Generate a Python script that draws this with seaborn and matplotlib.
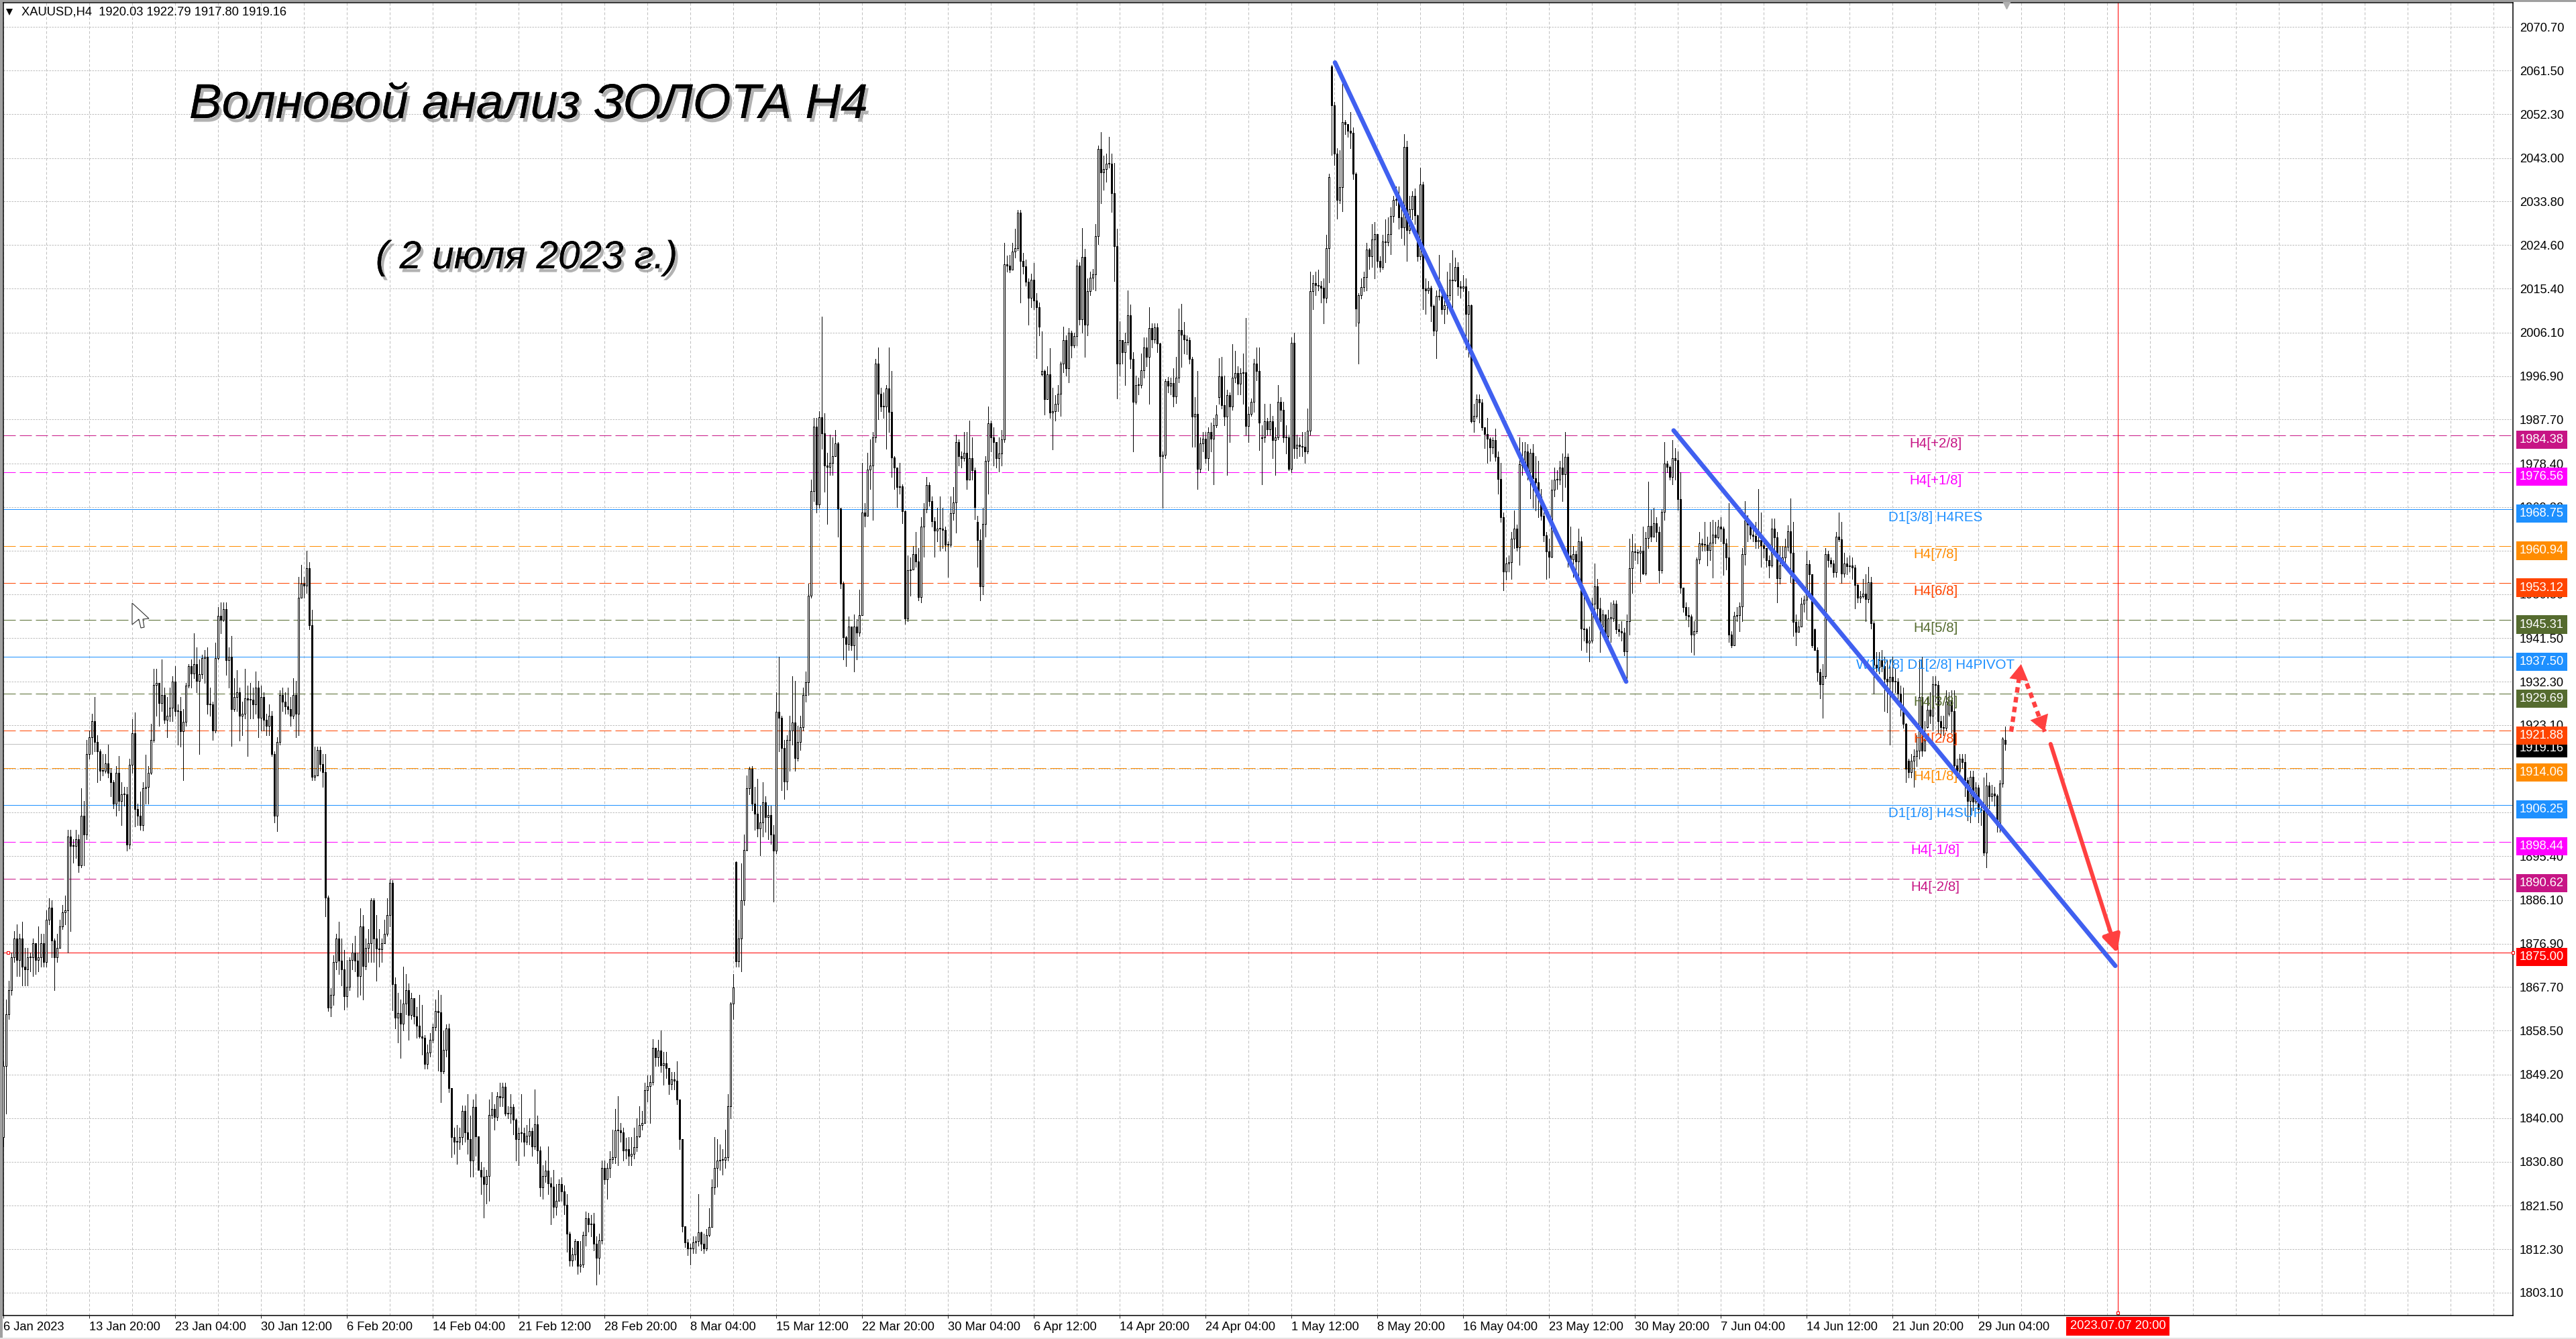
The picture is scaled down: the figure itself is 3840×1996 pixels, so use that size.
import matplotlib
matplotlib.use('Agg')
import matplotlib.pyplot as plt
import matplotlib.patheffects as pe
from matplotlib.patches import Polygon, Rectangle
from matplotlib.transforms import blended_transform_factory
import seaborn as sns

# H4 candles, ten bars per row
closes = [
    1851,1862,1867,1874,1878,1873.5,1878,1872,1871.5,1874,
    1874,1877,1873.5,1874,1877,1873,1882,1884.5,1877.5,1874,
    1876,1880.5,1883.5,1884,1899.5,1897.5,1897.5,1899,1893.5,1904,
    1900,1917,1920.5,1924,1919.5,1917.5,1913.5,1913.5,1915,1913,
    1911,1906.5,1913,1907,1908.5,1908.5,1897.8,1914.7,1921.4,1905.4,
    1904,1901.9,1909.8,1910,1913,1920,1931.6,1932,1927.8,1929.4,
    1924.2,1925,1926.8,1932.3,1926,1926,1921.8,1923.8,1931.5,1935.6,
    1934,1936,1932.4,1933.9,1937.3,1937.5,1927.5,1927.5,1922,1937.3,
    1946.2,1945.4,1947.6,1936.9,1937.5,1926.5,1929,1930,1925,1925.5,
    1928.7,1928.5,1928.5,1927.5,1931,1924.7,1929,1924.2,1923,1925,
    1917,1904,1919.6,1929.5,1928,1927,1926.5,1925,1929.4,1925.5,
    1950,1953,1952.6,1956.3,1944.2,1912.2,1912.5,1917.9,1914.8,1913.2,
    1886.6,1863.3,1866,1873,1878,1873.3,1871.5,1865.8,1867.7,1873.5,
    1875,1873.3,1870,1880.5,1872.2,1876,1877,1886.1,1878,1875.8,
    1875.7,1877,1879,1883,1889.7,1868.4,1861.3,1862.2,1860,1864.2,
    1867,1861.8,1865.4,1861.5,1859.6,1857.2,1857,1851.5,1853.9,1856.5,
    1859.3,1862.6,1862.4,1849.9,1854.4,1859,1846.4,1836,1835,1835,
    1836,1841.5,1837,1835.5,1831,1842.4,1836.2,1829,1827.6,1826,
    1827.7,1840.7,1842,1840.3,1844.6,1844.4,1846.6,1840.9,1841,1842.4,
    1839.7,1835.5,1836.9,1836.9,1835,1836.3,1837.2,1834,1838.7,1833.2,
    1825.4,1827.7,1828.9,1826.2,1825.5,1821.3,1822.5,1826,1824.5,1821.6,
    1815.5,1809.9,1811.2,1814,1808.8,1809,1815.3,1818.8,1817.5,1817.7,
    1813.5,1810.4,1814.1,1829.4,1827,1829.4,1831.3,1831.8,1837.4,1837.4,
    1837,1833.1,1833.4,1832,1832.5,1833.8,1836.2,1838.5,1839,1845.9,
    1846.8,1847.6,1854.8,1852.9,1854.3,1851.2,1851.6,1850.6,1847.2,1848.2,
    1847.9,1843.9,1835.6,1817.1,1813.7,1812.4,1812.4,1813.7,1814,1815.9,
    1813.5,1812.4,1815.3,1817,1825.4,1829.4,1831,1831.1,1831.1,1831.8,
    1842.5,1864.2,1867.6,1873.1,1878,1886,1896.7,1909.7,1913.9,1906.5,
    1904.4,1901.2,1902.5,1906.8,1903.7,1904.1,1900,1896.5,1925.9,1924.6,
    1918.2,1911.2,1920,1922,1923.7,1916.2,1919.6,1922.7,1929.5,1932.2,
    1950.5,1972.6,1986.2,1969.7,1988.2,1984.8,1978,1977.7,1978.5,1980,
    1982.7,1968.9,1953,1941.6,1940.3,1943.9,1939.9,1944,1942.7,1946.3,
    1968,1967.3,1977.1,1978,1984,1999.6,1993.1,1990.5,1990.4,1994.3,
    1989.3,1979.7,1977.5,1973.5,1973.6,1968.3,1945.6,1955.8,1956,1959.2,
    1957.7,1950.2,1965.1,1968.7,1973.8,1970.4,1966.2,1964.2,1964.7,1964.7,
    1964.4,1961.2,1961.2,1967.9,1970.2,1983,1979.9,1979.6,1980.7,1975,
    1979.5,1977,1969.2,1962.3,1952.4,1965.7,1978.9,1986.9,1984,1982.9,
    1979.6,1980.6,1983.5,2020.6,2020.3,2019.4,2023.2,2023.9,2031.5,2021.2,
    2020.1,2016.8,2013.5,2017.3,2012.9,2011.5,2007.3,1998,1992,1997.2,
    1989.2,1989.5,1991,1993.1,1999.6,2004.5,1998.5,2006,2003.3,2005.3,
    2020.3,2008.9,2022.1,2007.7,2014.8,2017.7,2018.4,2026.5,2044.9,2040,
    2040.7,2041.8,2041.8,2035.6,2024.4,1999.5,2004.5,2002,2004.1,2009.8,
    2000.5,1991.4,1995,1995,1998.1,2003,2001,2007,2004.7,2007.2,
    2003.8,1979.9,1980.2,1995.9,1994.8,1995.4,1992.6,1996.5,2006.7,2005.7,
    2004.6,2004.5,2000.5,1988.3,1988.9,1977.2,1982.6,1983.7,1979.5,1985,
    1983.7,1986.5,1988.8,1996.8,1990.8,1988.3,1992.9,1990.4,1996.5,1997.6,
    1995.3,1997.5,1997.7,1986.4,1988.9,1991.4,1999.5,1998,1987,1984,
    1987.4,1985.7,1987.3,1983.4,1984,1991.4,1989.7,1983.9,1984,1977.2,
    2004,1981.7,1982.4,1982.1,1982,1981,1985.4,2014.9,2016.6,2016.2,
    2016,2015.6,2013.5,2023.9,2039,2054.2,2044,2034.2,2036.8,2050.6,
    2050.2,2048.8,2048.4,2039.7,2011.1,2014,2015.7,2017.9,2023.6,2022.3,
    2025.8,2026.9,2021.2,2020,2025.4,2025.2,2026.9,2030.8,2034.2,2034.2,
    2030.5,2028.3,2045.4,2027.7,2032.1,2035,2030.9,2022.3,2037.4,2015.4,
    2015,2015.5,2011.7,2006.5,2013.9,2013.7,2011,2011.9,2014,2017.3,
    2017.1,2020,2015.8,2015.5,2015.9,2010,2011.9,1987.4,1988.5,1992,
    1991.3,1986,1984.7,1983.7,1981.8,1983.4,1979.8,1975.2,1967,1955.5,
    1957.2,1957.6,1962.5,1964.6,1960.7,1978.2,1978,1980.9,1976.6,1980.7,
    1975.3,1974.4,1971.5,1967.3,1963.2,1959.8,1958.7,1972.9,1975,1975,
    1977.5,1976.2,1979.8,1958.9,1958.1,1959.2,1957.7,1961.9,1943.5,1943.4,
    1940.5,1941,1948.8,1952.5,1947.8,1944,1946.5,1941.9,1945.7,1945.7,
    1948.7,1943.3,1943,1942.6,1938.7,1945,1956.3,1959.8,1959.7,1959.6,
    1959.9,1955.2,1962.7,1965.2,1963,1965.8,1964,1955.9,1968.2,1978.4,
    1977.7,1975.6,1979.6,1979.1,1970.9,1952.2,1948,1946.4,1946.1,1942.2,
    1942.9,1958.1,1961.5,1961.2,1961.2,1960.1,1961.7,1963.4,1962.8,1965,
    1964.7,1961.5,1958.6,1942.2,1940,1946.2,1946.4,1948.2,1959.2,1966.3,
    1965.5,1963.3,1963.1,1962,1962.3,1961.1,1960.5,1958,1956.8,1964.7,
    1962.8,1954.1,1956.8,1958.6,1960.8,1964.1,1959.6,1944.9,1942.8,1944,
    1948.8,1949.6,1957.1,1955,1940,1939,1934.3,1931.7,1933.4,1959.3,
    1958,1957.2,1955.4,1963,1962.4,1955.1,1957.2,1956.7,1956.8,1956.4,
    1952.7,1950,1950.3,1950.9,1949.8,1953.3,1944.6,1935.9,1935.3,1936.9,
    1935.6,1932.8,1932.3,1933.3,1932.3,1932.3,1929.8,1927,1923.4,1913.9,
    1913.2,1915.6,1916.5,1917.7,1929,1917.7,1919.8,1926.4,1925,1931.7,
    1931.6,1923.9,1922.6,1922.5,1928,1928.3,1926.1,1914.6,1913.5,1916,
    1915.3,1911.5,1907,1912.2,1906.9,1909.9,1905.3,1905,1896.1,1910.3,
    1908.1,1908.6,1908.2,1902,1910.8,1920.2,1919.16,
]
highs = [
    1852,1865,1869,1875,1879.5,1881,1879,1881.5,1876,1876,
    1875,1878,1877,1880.5,1879,1879,1884,1886.5,1886,1878,
    1879,1882,1885,1887,1901,1901,1899,1901,1900,1909.7,
    1907,1920,1922,1925.5,1929,1921,1918,1917,1917,1919,
    1914,1911.5,1914.5,1916.5,1911,1910,1910,1916,1924.3,1925.8,
    1906.5,1909,1911,1916.8,1914.5,1923.3,1935,1935,1932,1937,
    1931,1929,1931,1933.5,1935.5,1927.5,1929,1926.5,1932,1936,
    1937,1942.5,1939.5,1937,1938,1939,1939.5,1931,1928,1940.5,
    1948,1949,1949,1949,1939.5,1942,1933,1934.7,1931,1928,
    1935,1931.5,1932,1931,1934.5,1932.5,1931.5,1930,1925.5,1927.5,
    1926,1917.5,1920.5,1930.5,1931,1930,1931,1929,1933,1932.5,
    1954.5,1957,1954.5,1960,1957.5,1947.5,1918.5,1918.5,1918.5,1917,
    1917,1887,1867.5,1874.5,1879,1881.5,1878,1875.5,1873.5,1874,
    1877,1878.5,1875,1884.3,1883,1878,1880,1886.5,1886.5,1883,
    1880,1878,1882,1886.5,1890.5,1890.3,1869.7,1866.5,1865,1872,
    1870.5,1868.5,1866.5,1865,1863.5,1866,1864,1857.5,1855.5,1858,
    1860,1865,1867,1866,1858.5,1859.8,1860,1846.4,1838,1838.5,
    1838,1842.6,1842.7,1845,1840.5,1844,1845,1836,1830.7,1829.6,
    1829,1844,1845.5,1843,1845.5,1847.5,1847.5,1847.5,1842.5,1845,
    1843,1840,1838,1845,1838,1838.5,1840,1838,1846,1840.5,
    1834,1830,1831,1834,1827.5,1829,1826,1827,1827.5,1825.8,
    1824,1816,1812.6,1814.5,1814,1814,1816,1820.3,1820,1819.5,
    1820,1815,1815.5,1831,1831,1830.5,1833,1837.5,1842,1844.6,
    1839,1838,1835.8,1836,1836,1838,1840,1842.5,1841.5,1847.5,
    1849,1849,1856.7,1853.8,1856.5,1858.5,1854,1854,1850.6,1849.8,
    1849.8,1852,1844,1835.5,1817,1814.5,1813.5,1815,1815,1824,
    1816,1815.5,1816.5,1821,1827,1836,1835.5,1834.5,1833.5,1837.5,
    1845,1864.5,1870.5,1894.3,1882,1893.8,1900,1912.5,1914.3,1914.5,
    1910,1911.7,1906,1911,1908,1906,1906,1902,1930,1937.5,
    1925,1920,1921,1925,1933.5,1932.5,1923,1925,1931,1934.5,
    1953,1975,1988,1988,1989.5,2009.5,1989,1980.7,1984.5,1984,
    1985.5,1983,1969,1953.5,1942,1946,1944,1946.5,1945.5,1951.7,
    1978.5,1970,1980.7,1983.5,1985,2000.5,2003,1994.5,1993.5,1995,
    2003,1998,1980,1976.5,1978.5,1974,1968.5,1959,1958.5,1961,
    1964,1960.5,1967,1970,1975.5,1974.5,1971.5,1967,1969,1971.5,
    1969,1965,1962,1971.5,1973.5,1984.5,1983.5,1981,1985,1985,
    1987.5,1984,1977.5,1967.3,1964.5,1969,1980,1990.5,1987.5,1986,
    1983,1984,1985.5,2025,2022.4,2022.5,2025,2028,2032,2032,
    2023,2021.5,2017.5,2018.5,2020.8,2014.5,2012.5,2006.3,1998.3,1999,
    2002.8,1994.5,1992.8,1995,2000,2007.3,2005.5,2007,2006.5,2006,
    2021.5,2021,2028.2,2023.8,2017.5,2019,2019.5,2029,2045.7,2048.5,
    2043.5,2044,2047.5,2044,2042,2028,2008.5,2004.5,2006,2015,
    2012,2002,1997,1996.5,2001.7,2005,2005,2011.5,2008,2008,
    2008,2004,1981,1996.3,1996.7,1996.5,1998.5,2001,2011.2,2012.2,
    2008.4,2005.5,2005,2001,1992.4,1998,1984,1985,1985,1986,
    1987,1988,1990.7,2000.7,2001,1997,1994,1993.5,2003.7,2002.3,
    1999,1998.5,2001.7,2009.2,1990.5,1992.2,2000.5,2003,2003,1986.5,
    1991,1988,1991,1988.5,1986,1995,1992.5,1991.5,1986.5,1984.5,
    2005,2006,1984.5,1984,1985,1985,1990,2019,2018.2,2019,
    2019.4,2017,2017.5,2026.8,2039.7,2062.7,2054.8,2045,2044.7,2058.8,
    2051,2050,2052.7,2049.5,2040,2014.5,2017.5,2019,2025,2024,
    2029,2029.5,2026.9,2022.3,2026.8,2030,2030.5,2032.6,2035,2037,
    2037,2033,2048,2046.7,2035,2036,2036.5,2031,2041,2038,
    2017.5,2017,2016,2012,2015,2022.5,2014.5,2014.5,2019,2020.8,
    2023.5,2022,2021,2017,2018.2,2017.5,2014.8,2012,1991,1993,
    1993,1992,1986,1988,1984,1984,1985.8,1981,1978.5,1968,
    1958.5,1959,1964,1968.5,1965.5,1984,1983,1983,1982.5,1981.5,
    1982.5,1980,1979,1973,1968,1964,1962.5,1975,1977.5,1977,
    1979,1980.5,1985,1980.5,1965,1961,1960,1964.6,1963,1951,
    1943.6,1944,1950,1957.3,1954,1950,1947.5,1946.5,1947.5,1949,
    1949.5,1949.5,1944.5,1945,1943.7,1946.5,1962.5,1963.5,1961.5,1960.2,
    1961,1965,1964,1974.6,1968.6,1969,1967,1965,1968.8,1983,
    1979,1978,1983.3,1981.6,1981,1976.5,1952,1949,1948,1946.5,
    1945,1958.5,1964,1962.5,1966,1963,1966,1966.5,1966,1966.5,
    1967,1965,1962.5,1970,1943,1947,1948,1949,1960.5,1970.4,
    1967.5,1966,1965,1966,1973,1968,1962,1960,1959,1966.8,
    1966.8,1964,1961,1961,1962.5,1965.3,1971,1966,1946.5,1945,
    1950,1950.5,1960,1958,1955,1943.5,1939.5,1935,1936,1960.5,
    1960,1958.5,1958,1964,1968,1966,1959.5,1958.5,1959,1958.5,
    1957,1953,1951.5,1954,1955,1956.5,1954.5,1945,1938.5,1938.5,
    1939,1937.5,1937,1937,1937.5,1935,1933,1931.5,1931,1923.5,
    1916,1917,1918,1921,1937,1937.5,1924,1929,1930,1933.4,
    1933.4,1932.5,1925,1925,1930.5,1930,1930.5,1930.5,1916,1917,
    1917,1917,1912,1913.5,1913.5,1911,1910.5,1907,1912,1913,
    1911,1910.5,1910,1908.5,1911.5,1920.5,1922.79,
]
lows = [
    1834,1841,1861,1866,1873,1870,1870,1868,1868,1868,
    1871,1870,1870.5,1871,1872,1872,1872,1881,1874,1867,
    1873,1876,1880,1881,1875,1879.5,1894,1895,1892,1893,
    1893.5,1899,1916,1917,1917.5,1911,1911.5,1912.5,1913,1912,
    1908,1905.5,1904,1905,1902,1906,1896.5,1897,1913,1901.7,
    1902,1901,1900.8,1906.5,1906.5,1912.7,1919.5,1925,1923,1926,
    1923.5,1920.5,1924,1924,1925,1919,1918.5,1911.5,1923,1931,
    1931,1933,1930,1917,1933,1932,1925.5,1925,1920,1921.5,
    1937,1942.5,1945,1933.7,1931,1918.7,1926,1926,1919.8,1921,
    1924.5,1916.5,1924.5,1924.5,1925.5,1920.5,1922,1922,1921,1921,
    1916.5,1902.5,1900.7,1919,1926,1925.5,1925.5,1923,1924.5,1920.5,
    1921,1950.5,1950,1951,1943.3,1911.5,1911.4,1912.5,1913.5,1910,
    1882.6,1862.7,1861.5,1864,1871.5,1870.5,1868,1863,1863.5,1867,
    1871.5,1871,1865.7,1866,1865,1871.5,1873,1873,1873,1869,
    1872,1873,1877,1878.5,1880.5,1862.8,1859,1856,1852.7,1858.5,
    1862,1856.5,1861,1860,1857,1857,1853.5,1850.5,1850.5,1853,
    1856,1858.5,1850,1843.3,1849.5,1853,1845.5,1831.8,1832.5,1830.3,
    1833.5,1834.5,1835,1832.5,1827.6,1827.6,1832,1829,1824,1819,
    1822,1822.5,1840,1837.5,1839.5,1842.5,1842.5,1840.5,1840,1839,
    1836.5,1831,1830,1835,1832,1834.5,1834.5,1832,1833.5,1830.5,
    1823.5,1823,1826.5,1824,1817.5,1819,1819.5,1822.5,1822.5,1819.7,
    1811.8,1808.7,1808.7,1810,1807,1807.5,1808.5,1813,1816,1815,
    1812,1804.8,1807,1813.5,1826,1823,1827.5,1830.5,1830.5,1830,
    1835,1831,1831.5,1830,1830,1831.5,1833,1836,1837.5,1839,
    1843.5,1839,1847,1851,1851,1849.7,1847,1848.5,1845,1846,
    1846,1843,1833.5,1816,1812.7,1811,1809,1811.5,1811.5,1813,
    1812,1811.5,1812,1815,1817,1824,1825.5,1829,1828,1829.5,
    1831,1840,1861,1872,1872,1871,1885,1896.5,1908.5,1905,
    1901,1899.5,1895.5,1899.5,1900.5,1899,1898,1885.8,1896,1917.5,
    1909.3,1907.5,1909.5,1913.5,1919,1913.5,1915.5,1917.8,1922,1928,
    1929.5,1950,1970.5,1968,1969,1981.5,1972.5,1965.7,1976,1976,
    1980,1963,1952,1937,1935.5,1939,1939,1934.5,1937,1942,
    1950,1965,1968,1973,1966.5,1983,1987.8,1989.5,1988,1981.5,
    1985,1975.5,1973,1969.2,1972,1965.8,1944.5,1945,1950.5,1956,
    1956.5,1949.5,1949,1958.7,1968,1969.5,1965,1958.7,1962,1960,
    1960.5,1960,1954.5,1960.8,1966.5,1963.8,1978,1977.5,1979,1973,
    1975,1975,1966.7,1956.5,1949.5,1950.7,1963,1972,1981,1978,
    1977.5,1976.7,1978,1983,2019,2018.8,2019.5,2022,2023.5,2012.4,
    2018.5,2016,2007.8,2011.5,2011,2000.7,2005.5,1997,1988.7,1992,
    1988,1981.4,1987.5,1989.5,1988.5,1997.7,1997,1995.5,2000.8,2003,
    2003.3,2007.8,2006,2001,2005.5,2014,2015.3,2015,2024.8,2033.4,
    2036.3,2038,2041,2031.6,2017,1992.2,1997,1999.5,1995,2003.5,
    1998.5,1981,1991,1993,1994.5,1996.5,1999,1991,2003,2004,
    2002,1976.5,1969,1979.5,1993.5,1993,1990.4,1991.2,1995.5,1998.8,
    2001.7,2001.5,1999.5,1982,1982,1973,1976.5,1981,1978.5,1977,
    1981,1974,1986,1991,1990,1986.5,1976,1983,1989.8,1995.5,
    1993,1993,1991,1984.5,1983,1988.5,1989.3,1996,1981.3,1974,
    1983,1984.5,1984.5,1979.5,1976,1983.5,1987.3,1983,1980.5,1977,
    1976.5,1979.5,1979.5,1980,1980,1978.5,1980.5,1984.5,2011,2014,
    2015,2012.5,2008,2012.4,2016.7,2043.7,2041.5,2030.2,2033.5,2031.8,
    2048,2047.5,2045,2038.5,2007.5,1999.5,2013.3,2014.8,2015,2019.5,
    2020,2017.6,2020,2019,2019.5,2021,2024.5,2022.6,2029.5,2033,
    2028,2026,2024.7,2021.3,2027,2030,2029,2021.3,2021.5,2011,
    2010,2014.5,2008.5,2005.5,2000.7,2013,2010,2008,2010,2013,
    2011.5,2017,2014,2013.5,2014.8,2002.5,2001,1987,1985,1988,
    1987,1985.5,1981.7,1978.6,1979,1980.5,1979,1972,1966,1951.6,
    1953.8,1955.5,1954,1960.5,1960,1957,1976,1977,1975,1971,
    1969,1968.5,1967,1966.5,1962,1954,1954.3,1958.5,1971.5,1973,
    1974,1970.5,1973.5,1956.5,1956.5,1954.5,1955,1954.5,1939,1941,
    1938.5,1936.6,1940.5,1947.5,1945,1938.5,1942,1941,1941,1940.7,
    1945,1942.5,1942,1941,1937.8,1932.5,1942.3,1951,1958,1957.2,
    1953.5,1955,1954.8,1960.5,1962,1963,1962,1953.2,1955.3,1966.5,
    1976.5,1975,1974,1975,1968.6,1951,1947,1945.5,1944,1938.5,
    1938,1942.5,1957.2,1959.9,1960,1956.8,1958,1954.3,1961.5,1962.5,
    1962,1954.8,1956,1940.7,1939.5,1940,1945,1943,1945,1957,
    1962,1962.5,1962,1960.5,1960.5,1956.5,1958.5,1956.5,1954.3,1956.5,
    1960,1949,1953,1957,1957,1960,1953.3,1942,1939.9,1943,
    1944,1947,1945.5,1951,1939.5,1939,1932.4,1928.8,1924.7,1933,
    1956.5,1956.5,1954.5,1954.5,1962,1953.1,1954.5,1955,1955.5,1954,
    1947.7,1949,1949,1950,1945,1949,1943.5,1929.8,1934.5,1934,
    1934.5,1926,1925.8,1919,1930,1930,1928,1925,1922.5,1911,
    1912,1912,1910,1914.5,1916,1916.5,1918.5,1922.5,1923.5,1922,
    1928,1921.5,1920.5,1921,1922,1925,1921.5,1914,1912,1913,
    1914,1908,1903,1902.5,1905,1906.5,1902.5,1902,1895.5,1893,
    1905.5,1907,1906,1900.5,1900.5,1910,1917.8,
]
first_open = 1836
# bars that opened away from the previous close
gap_bars = [273, 363, 387, 453, 469, 495, 505, 675, 710, 717, 725, 746]
gap_opens = [1894.1, 1966.1, 1997.2, 1992.4, 1983.8, 2062.4, 2008.2, 1943.3, 1915.5, 1922.7, 1925.5, 1920.03]

time_labels = ['6 Jan 2023', '13 Jan 20:00', '23 Jan 04:00', '30 Jan 12:00', '6 Feb 20:00', '14 Feb 04:00',
               '21 Feb 12:00', '28 Feb 20:00', '8 Mar 04:00', '15 Mar 12:00', '22 Mar 20:00', '30 Mar 04:00',
               '6 Apr 12:00', '14 Apr 20:00', '24 Apr 04:00', '1 May 12:00', '8 May 20:00', '16 May 04:00',
               '23 May 12:00', '30 May 20:00', '7 Jun 04:00', '14 Jun 12:00', '21 Jun 20:00', '29 Jun 04:00']
price_ticks = [2070.70, 2061.50, 2052.30, 2043.00, 2033.80, 2024.60, 2015.40, 2006.10, 1996.90, 1987.70,
               1978.40, 1969.20, 1960.00, 1950.80, 1941.50, 1932.30, 1923.10, 1913.80, 1904.60, 1895.40,
               1886.10, 1876.90, 1867.70, 1858.50, 1849.20, 1840.00, 1830.80, 1821.50, 1812.30, 1803.10]

level_values = [1984.38, 1976.56, 1968.75, 1960.94, 1953.12, 1945.31, 1937.50, 1929.69, 1921.88, 1914.06,
                1906.25, 1898.44, 1890.62]
level_names = ['H4[+2/8]', 'H4[+1/8]', 'D1[3/8] H4RES', 'H4[7/8]', 'H4[6/8]', 'H4[5/8]',
               'W1[7/8] D1[2/8] H4PIVOT', 'H4[3/8]', 'H4[2/8]', 'H4[1/8]', 'D1[1/8] H4SUP', 'H4[-1/8]', 'H4[-2/8]']
level_colors = ['#C71585', '#FF00FF', '#1E90FF', '#FF8C00', '#FF4500', '#556B2F', '#1E90FF', '#556B2F',
                '#FF4500', '#FF8C00', '#1E90FF', '#FF00FF', '#C71585']
level_solid = [False, False, True, False, False, False, True, False, False, False, True, False, False]

last_price = 1919.16
target_price = 1875.00
target_bar = 788
target_time = '2023.07.07 20:00'

# hand drawn wave lines and arrows (bar number, price)
wave_1_x, wave_1_y = [496.2, 604.7], [2063.2, 1932.3]
wave_2_x, wave_2_y = [622.4, 787.0], [1985.4, 1872.2]
arrow_up_x, arrow_up_y = [748.2, 751.9], [1921.7, 1936.0]
arrow_back_x, arrow_back_y = [754.0, 760.7], [1931.9, 1921.7]
arrow_main_x, arrow_main_y = [762.9, 787.7], [1919.1, 1874.9]

W, H = 3840, 1996
sns.set_theme(style='white')
plt.rcParams['font.family'] = ['Liberation Sans', 'DejaVu Sans']
plt.rcParams['axes.unicode_minus'] = False

opens = [first_open] + closes[:-1]
for b, o in zip(gap_bars, gap_opens):
    opens[b] = o
bars = list(range(len(closes)))

fig = plt.figure(figsize=(W / 100, H / 100), dpi=100, facecolor='white')
ax = fig.add_axes([4.7 / W, (H - 1961) / H, (3746 - 4.7) / W, (1961 - 4) / H])
ax.set_facecolor('white')
ax.set_xlim(-0.15, 935.2)
ax.set_ylim(1798.26, 2075.85)

px = 0.72  # one pixel in points

# grid
for gx in range(0, 936, 16):
    ax.axvline(gx, color='#BEBEBE', lw=px, ls=(0, (4, 3)), zorder=1)
for gy in price_ticks:
    ax.axhline(gy, color='#BEBEBE', lw=px, ls=(0, (2.5, 1.5)), zorder=1)

# levels
for val, col, solid in zip(level_values, level_colors, level_solid):
    ax.axhline(val, color=col, lw=px, ls='-' if solid else (0, (18, 6)), zorder=2)
ax.axhline(last_price, color='#C0C0C0', lw=px, zorder=2)
ax.axhline(target_price, color='#FF0000', lw=px, zorder=2)
ax.axvline(target_bar, color='#FF0000', lw=px, zorder=2)

# candles, no antialiasing so they stay as crisp as the terminal's
ax.vlines(bars, [min(l, o, c) for l, o, c in zip(lows, opens, closes)],
          [max(h, o, c) for h, o, c in zip(highs, opens, closes)], color='black', lw=px, zorder=3, antialiased=False)
body_bottom = [min(o, c) for o, c in zip(opens, closes)]
body_height = [max(abs(c - o), 0.15) for o, c in zip(opens, closes)]
body_color = ['white' if c >= o else 'black' for o, c in zip(opens, closes)]
ax.bar(bars, body_height, bottom=body_bottom, width=0.55, color=body_color, edgecolor='black', linewidth=px,
       zorder=3.1, antialiased=False)

# level captions
for val, name, col in zip(level_values, level_names, level_colors):
    ax.annotate(name, xy=(720, val), xytext=(0, -9), textcoords='offset points', ha='center', va='center',
                color=col, fontsize=14.8, zorder=4, annotation_clip=False)

# wave lines
for xs, ys in [(wave_1_x, wave_1_y), (wave_2_x, wave_2_y)]:
    sns.lineplot(x=xs, y=ys, ax=ax, color='#4060F0', lw=4.8, solid_capstyle='round', zorder=5, errorbar=None, sort=False)

# arrows
arrow_col = '#FF4040'
for xs, ys in [(arrow_up_x, arrow_up_y), (arrow_back_x, arrow_back_y)]:
    sns.lineplot(x=xs, y=ys, ax=ax, color=arrow_col, lw=4.6, ls=(0, (1.3, 1.0)), dash_capstyle='butt', zorder=6,
                 errorbar=None, sort=False)
    ax.annotate('', xy=(xs[1], ys[1]), xytext=(xs[1] - (xs[1] - xs[0]) * 0.3, ys[1] - (ys[1] - ys[0]) * 0.3),
                arrowprops=dict(arrowstyle='-|>,head_length=1.0,head_width=0.6', mutation_scale=17, color=arrow_col,
                                lw=0, shrinkA=0, shrinkB=0), zorder=6)
ax.annotate('', xy=(arrow_main_x[1], arrow_main_y[1]), xytext=(arrow_main_x[0], arrow_main_y[0]),
            arrowprops=dict(arrowstyle='-|>,head_length=1.0,head_width=0.5', mutation_scale=16, color=arrow_col,
                            lw=4.4, shrinkA=0, shrinkB=0), zorder=6)

# axis frame and ticks
for s in ax.spines.values():
    s.set_color('black')
    s.set_linewidth(1.1)
ax.yaxis.tick_right()
ax.set_yticks(price_ticks)
ax.set_yticklabels(['%.2f' % t for t in price_ticks], fontsize=13.2, color='black')
ax.tick_params(axis='y', length=0, pad=7)
ax.set_xticks(list(range(0, len(time_labels) * 32, 32)))
ax.set_xticklabels(time_labels, fontsize=13.2, ha='left', color='black')
ax.tick_params(axis='x', length=3, width=px, pad=3.5, bottom=True, direction='out')
ax.grid(False)

# coloured price tags on the right side
right = blended_transform_factory(ax.transAxes, ax.transData)
tag_values = [last_price] + level_values + [target_price]
tag_colors = ['black'] + level_colors + ['#FF0000']
for val, col in zip(tag_values, tag_colors):
    ax.annotate('%.2f' % val, xy=(1, val), xycoords=right, xytext=(7.2, -4.9), textcoords='offset points',
                ha='left', va='center', color='white', fontsize=13.2, annotation_clip=False, zorder=10,
                bbox=dict(boxstyle='square,pad=0.28', fc=col, ec=col, lw=0))

# target time tag and anchors of the hand drawn lines
bottom = blended_transform_factory(ax.transData, ax.transAxes)
ax.annotate(target_time, xy=(target_bar, 0), xycoords=bottom, xytext=(0, -11.5), textcoords='offset points',
            ha='center', va='center', color='white', fontsize=13.2, annotation_clip=False,
            bbox=dict(boxstyle='square,pad=0.3', fc='#FF0000', ec='#FF0000', lw=0), zorder=10)
ax.plot([target_bar], [0.002], transform=bottom, marker='s', ms=3.5, mfc='white', mec='#FF0000', mew=0.8, clip_on=False, zorder=7)
ax.plot([0.002], [target_price], transform=ax.get_yaxis_transform(), marker='s', ms=3.5, mfc='white', mec='#FF0000', mew=0.8, clip_on=False, zorder=7)
ax.plot([1.0], [target_price], transform=ax.get_yaxis_transform(), marker='s', ms=3.5, mfc='white', mec='#FF0000', mew=0.8, clip_on=False, zorder=7)

# chart shift marker at the top
ax.plot([746.5], [0.9985], transform=bottom, marker='v', ms=8, color='#B0B0B0', clip_on=False, zorder=7)

# window edges
fig.patches.append(Rectangle((0, 0), 3.5 / W, 1, transform=fig.transFigure, fc='#A0A0A0', ec='none'))
fig.patches.append(Rectangle((0, 1 - 3 / H), 1, 3 / H, transform=fig.transFigure, fc='#A0A0A0', ec='none'))
fig.patches.append(Rectangle((0, 0), 1, 2 / H, transform=fig.transFigure, fc='#E4E4E4', ec='none'))

# mouse cursor left in the screenshot
cursor = [(197, 899), (222, 922), (213, 923), (215, 935), (210, 936), (207, 923), (197, 931)]
fig.patches.append(Polygon([(x / W, 1 - y / H) for x, y in cursor], closed=True, transform=fig.transFigure,
                           fc='white', ec='#303030', lw=0.8, zorder=8))

# header and titles
fig.text(32 / W, 1 - 18 / H, 'XAUUSD,H4  1920.03 1922.79 1917.80 1919.16', fontsize=13.2, va='center', color='black')
fig.patches.append(Polygon([(9 / W, 1 - 13 / H), (19 / W, 1 - 13 / H), (14 / W, 1 - 23 / H)], closed=True,
                           transform=fig.transFigure, fc='black', ec='none'))
shadow = [pe.withSimplePatchShadow(offset=(3, -4), shadow_rgbFace='#808080', alpha=0.6), pe.Normal()]
fig.text(282 / W, 1 - 157 / H, 'Волновой анализ ЗОЛОТА H4', fontsize=52.5, style='italic', va='center', ha='left',
         color='black', path_effects=shadow)
fig.text(560 / W, 1 - 385 / H, '( 2 июля 2023 г.)', fontsize=42, style='italic', va='center', ha='left',
         color='black', path_effects=shadow)

assert len(closes) == len(highs) == len(lows)
fig.savefig('out.png', dpi=100)
